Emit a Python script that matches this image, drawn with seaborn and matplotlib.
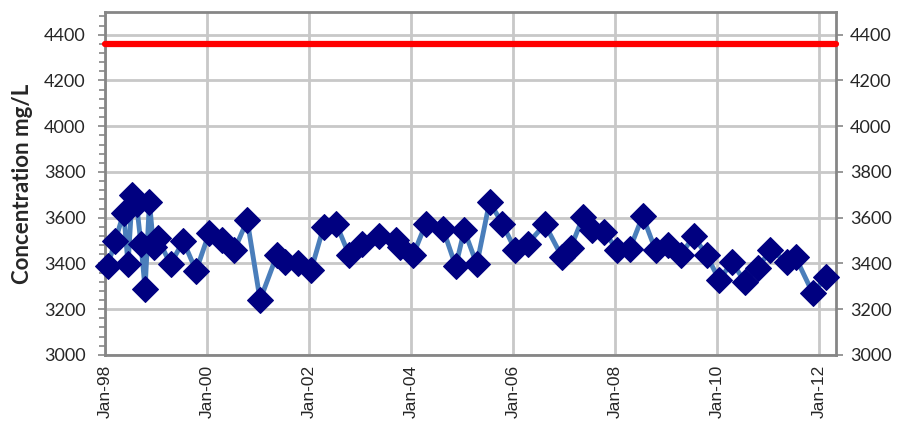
import numpy as np
import pandas as pd
import matplotlib
matplotlib.use("Agg")
import matplotlib.pyplot as plt
import matplotlib.dates as mdates
from matplotlib.ticker import MultipleLocator
import seaborn as sns

# sample dates and measured concentrations (mg/L)
sample_dates = [
    "1998-01-20", "1998-03-15", "1998-05-15", "1998-06-15", "1998-07-15", "1998-08-15",
    "1998-09-15", "1998-10-15", "1998-11-15", "1998-12-15", "1999-01-15", "1999-04-15",
    "1999-07-15", "1999-10-15", "2000-01-15", "2000-04-15", "2000-07-15", "2000-10-15",
    "2001-01-15", "2001-05-15", "2001-07-15", "2001-10-15", "2002-01-15", "2002-04-15",
    "2002-07-15", "2002-10-15", "2003-01-15", "2003-05-15", "2003-09-15", "2003-10-15",
    "2004-01-15", "2004-04-15", "2004-08-15", "2004-11-15", "2005-01-15", "2005-04-15",
    "2005-07-15", "2005-10-15", "2006-01-15", "2006-04-15", "2006-08-15", "2006-12-15",
    "2007-02-15", "2007-05-15", "2007-07-15", "2007-10-15", "2008-01-15", "2008-04-15",
    "2008-07-15", "2008-10-15", "2009-01-15", "2009-04-15", "2009-07-15", "2009-10-15",
    "2010-01-15", "2010-04-15", "2010-07-15", "2010-10-15", "2011-01-15", "2011-05-15",
    "2011-07-15", "2011-11-15", "2012-02-15",
]
concentration = [
    3388, 3498, 3622, 3396, 3698, 3660,
    3487, 3288, 3669, 3472, 3509, 3396,
    3498, 3368, 3531, 3502, 3458, 3589,
    3240, 3436, 3405, 3400, 3371, 3560,
    3571, 3436, 3484, 3519, 3502, 3470,
    3436, 3574, 3552, 3388, 3545, 3396,
    3669, 3574, 3458, 3487, 3571, 3429,
    3467, 3603, 3545, 3538, 3458, 3465,
    3607, 3458, 3480, 3438, 3519, 3436,
    3327, 3407, 3320, 3378, 3458, 3407,
    3426, 3269, 3339,
]
limit_value = 4360
tick_years = list(range(1998, 2013, 2))

df = pd.DataFrame({"date": pd.to_datetime(sample_dates), "conc": concentration})

sns.set_style("white")
plt.rcParams["font.family"] = ["Lato", "DejaVu Sans"]

fig = plt.figure(figsize=(9.05, 4.24), dpi=100)
ax = fig.add_axes([0.116, 0.163, 0.808, 0.809])

x_start = pd.Timestamp("1998-01-01")
x_end = pd.Timestamp("2012-04-30")

ax.axhline(limit_value, color="#FF0000", lw=4.5, zorder=3, solid_capstyle="round")
sns.lineplot(data=df, x="date", y="conc", ax=ax, color="#4A7EBB", lw=3.5,
             marker="D", markersize=13, markerfacecolor="#000080",
             markeredgecolor="#000080", zorder=4)
for ln in ax.get_lines():
    ln.set_clip_on(False)

ax.set_xlim(x_start, x_end)
ax.set_ylim(3000, 4500)
ax.set_yticks(range(3000, 4401, 200))
ax.yaxis.set_minor_locator(MultipleLocator(40))
ax.set_xticks([pd.Timestamp(f"{y}-01-01") for y in tick_years])
ax.xaxis.set_major_formatter(mdates.DateFormatter("%b-%y"))

ax.grid(True, which="major", color="#C8C8C8", lw=2)
ax.set_axisbelow(True)

for s in ax.spines.values():
    s.set_color("#868686")
    s.set_linewidth(2)

ax.tick_params(axis="y", which="major", direction="out", length=5, width=1.2,
               color="#868686", labelsize=13, pad=9, left=True)
ax.tick_params(axis="y", which="minor", direction="out", length=4, width=1.2,
               color="#868686", left=True)
ax.tick_params(axis="x", length=0, pad=7, labelsize=12.5, labelrotation=90)
plt.setp(ax.get_xticklabels(), fontfamily="Liberation Sans")

ax.set_xlabel("")
ax.set_ylabel("Concentration mg/L", fontsize=16, fontweight="bold", labelpad=8)

ax2 = ax.twinx()
ax2.set_ylim(ax.get_ylim())
ax2.set_yticks(range(3000, 4401, 200))
ax2.tick_params(axis="y", direction="out", length=5, width=1.2, color="#868686",
                labelsize=13, pad=5, right=True)
for s in ax2.spines.values():
    s.set_visible(False)

fig.savefig("out.png", dpi=100)
